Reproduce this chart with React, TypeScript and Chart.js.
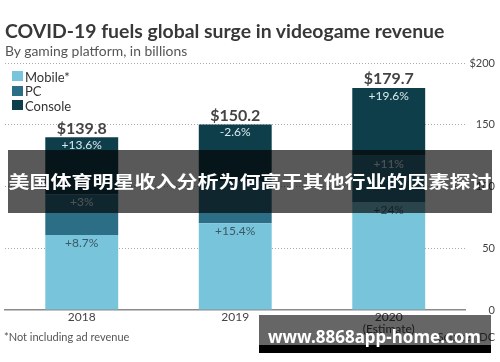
import React, { useEffect, useRef } from "react";
import { Chart, registerables } from "chart.js";

Chart.register(...registerables);

// ---- data ----
const years: string[][] = [["2018"], ["2019"], ["2020", "(Estimate)"]];
const mobile = [60.7, 70.2, 87.0];
const pc = [33.0, 34.2, 38.0];
const consoleRev = [46.1, 45.8, 54.7];
const totals = ["$139.8", "$150.2", "$179.7"];
const mobileGrowth = ["+8.7%", "+15.4%", "+24%"];
const pcGrowth = ["+3%", "", "+11%"];
const consoleGrowth = ["+13.6%", "-2.6%", "+19.6%"];
const seriesNames = ["Mobile*", "PC", "Console"];
const seriesColors = ["#78c4db", "#2c6e86", "#0f3e4b"];
const labelColors = ["#3d5865", "#e8f1f4", "#dbe9ee"];
const yMax = 200;
const yStep = 50;

const title = "COVID-19 fuels global surge in videogame revenue";
const subtitle = "By gaming platform, in billions";
const footnote = "*Not including ad revenue";
const source = "Source: IDC";
const banner1 = "美国体育明星收入分析为何高于其他行业的因素探讨";
const banner2 = "www.8868app-home.com";

const growthLabels = [mobileGrowth, pcGrowth, consoleGrowth];

const labelPlugin = {
  id: "segLabels",
  afterDatasetsDraw(chart: any) {
    const ctx = chart.ctx;
    ctx.save();
    ctx.textAlign = "center";
    ctx.textBaseline = "middle";
    chart.data.datasets.forEach((_: any, d: number) => {
      const meta = chart.getDatasetMeta(d);
      meta.data.forEach((el: any, i: number) => {
        const txt = growthLabels[d][i];
        if (txt) {
          ctx.font = "12px Lato";
          ctx.fillStyle = labelColors[d];
          ctx.fillText(txt, el.x, el.y + 8);
        }
        if (d === chart.data.datasets.length - 1) {
          ctx.font = "bold 16px Lato";
          ctx.fillStyle = "#444";
          ctx.fillText(totals[i], el.x, el.y - 9);
        }
      });
    });
    ctx.restore();
  },
};

export default function App() {
  const ref = useRef<HTMLCanvasElement | null>(null);

  useEffect(() => {
    if (!ref.current) return;
    const chart = new Chart(ref.current, {
      type: "bar",
      data: {
        labels: years,
        datasets: [mobile, pc, consoleRev].map((vals, k) => ({
          label: seriesNames[k],
          data: vals,
          backgroundColor: seriesColors[k],
          borderWidth: 0,
          barPercentage: 0.475,
          categoryPercentage: 1,
        })),
      },
      options: {
        animation: false,
        responsive: false,
        devicePixelRatio: 1,
        layout: { padding: { left: 5, right: 5, top: 63, bottom: 22 } },
        plugins: {
          legend: { display: false },
          tooltip: { enabled: false },
        },
        scales: {
          x: {
            stacked: true,
            grid: { display: false, drawTicks: false },
            border: { display: true, color: "#8a8a8a", width: 1.5 },
            ticks: {
              color: "#444",
              font: { family: "Lato", size: 12, lineHeight: 1.0 },
              padding: 1,
            },
            afterFit: (s: any) => {
              s.height = 30;
            },
          },
          y: {
            stacked: true,
            position: "right",
            min: 0,
            max: yMax,
            grid: {
              drawTicks: false,
              color: (c: any) => (c.tick && c.tick.value === 0 ? "rgba(0,0,0,0)" : "#aaa"),
              lineWidth: 1,
            },
            border: { display: false, dash: [1, 2] },
            ticks: {
              stepSize: yStep,
              crossAlign: "far",
              padding: 2,
              color: "#444",
              font: { family: "Lato", size: 11 },
              callback: (v: any) => (v === yMax ? "$" + v : String(v)),
            },
          },
        },
      },
      plugins: [labelPlugin],
    });
    return () => chart.destroy();
  }, []);

  const abs = (o: React.CSSProperties): React.CSSProperties => ({ position: "absolute", whiteSpace: "nowrap", ...o });

  return (
    <div
      style={{
        position: "fixed",
        left: 0,
        top: 0,
        width: 500,
        height: 362,
        background: "#fff",
        overflow: "hidden",
        fontFamily: "Lato, sans-serif",
      }}
    >
      <canvas ref={ref} width={500} height={362} style={{ position: "absolute", left: 0, top: 0 }} />
      <div style={abs({ left: 5, top: 20, lineHeight: "22px", fontSize: 19.4, fontWeight: 700, color: "#383838" })}>{title}</div>
      <div style={abs({ left: 5, top: 43, lineHeight: "16px", fontSize: 13.9, color: "#555" })}>{subtitle}</div>
      {seriesNames.map((n, k) => (
        <React.Fragment key={n}>
          <div style={abs({ left: 12, top: 71 + k * 14.5, width: 11, height: 10, background: seriesColors[k] })} />
          <div style={abs({ left: 25, top: 69.5 + k * 14.5, lineHeight: "15px", fontSize: 13, color: "#333" })}>{n}</div>
        </React.Fragment>
      ))}
      <div style={abs({ left: 4, top: 330, lineHeight: "14px", fontSize: 11, color: "#555" })}>{footnote}</div>
      <div style={abs({ right: 5, top: 330, lineHeight: "14px", fontSize: 11, color: "#555" })}>{source}</div>

      <div style={abs({ left: 8, top: 150, width: 484, height: 63, background: "rgba(0,0,0,0.65)" })} />
      <div
        style={abs({
          left: 8,
          top: 172,
          width: 484,
          textAlign: "center",
          lineHeight: "17px",
          fontSize: 17,
          fontWeight: 700,
          color: "#fff",
          fontFamily: "'Noto Sans CJK SC', sans-serif",
          transform: "scaleX(1.235)",
          transformOrigin: "center",
        })}
      >
        {banner1}
      </div>

      <div style={abs({ left: 259, top: 315, width: 232, height: 30, background: "rgba(0,0,0,0.6)" })} />
      <div style={abs({ left: 259, top: 345, width: 232, height: 8, background: "#000" })} />
      <div
        style={abs({
          left: 268,
          top: 328,
          lineHeight: "17px",
          fontSize: 17,
          fontWeight: 700,
          color: "#fff",
          fontFamily: "'Noto Sans', sans-serif",
        })}
      >
        {banner2}
      </div>
    </div>
  );
}
